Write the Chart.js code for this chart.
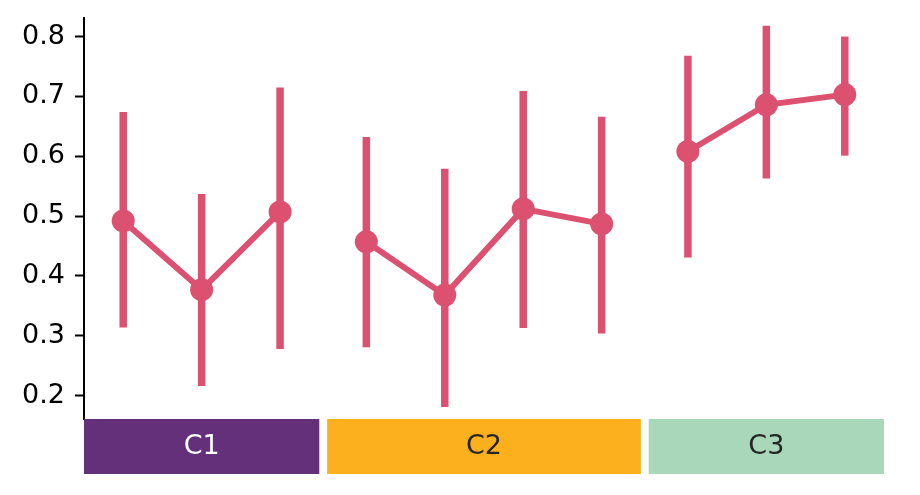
<!DOCTYPE html>
<html>
<head>
<meta charset="utf-8">
<script src="https://cdn.jsdelivr.net/npm/chart.js@4"></script>
<style>
  html, body { margin: 0; padding: 0; background: #fff; }
</style>
</head>
<body>
<canvas id="myChart" width="920" height="495"></canvas>
<script>
const groups = ['C1', 'C2', 'C3'];
const means = [
    [0.492, 0.377, 0.507],
    [0.457, 0.368, 0.512, 0.487],
    [0.608, 0.686, 0.703]
];
const lows = [
    [0.314, 0.216, 0.278],
    [0.281, 0.181, 0.313, 0.304],
    [0.431, 0.563, 0.601]
];
const highs = [
    [0.674, 0.537, 0.715],
    [0.632, 0.579, 0.709, 0.666],
    [0.768, 0.818, 0.800]
];
const yTicks = [0.2, 0.3, 0.4, 0.5, 0.6, 0.7, 0.8];

const groupColors = ['#65307a', '#fdb01d', '#a9d7b9'];
const groupTextColors = ['#ffffff', '#262626', '#262626'];
const lineColor = '#dc5070';
const gap = 0.1; // промежуток между группами

// позиции точек по оси x
let offset = 0;
const groupRanges = [];
const datasets = means.map(function (vals, g) {
    const start = offset;
    const pts = vals.map(function (v, i) {
        return { x: start + i + 0.5, y: v, lo: lows[g][i], hi: highs[g][i] };
    });
    offset += vals.length;
    groupRanges.push([start, offset]);
    offset += gap;
    return {
        label: groups[g],
        data: pts,
        borderColor: lineColor,
        backgroundColor: lineColor,
        borderWidth: 6,
        pointRadius: 11.5,
        pointHoverRadius: 11.5,
        pointBorderWidth: 0,
        clip: false
    };
});
const xMax = offset - gap;

// вертикальные "усы" ошибок
const errorBars = {
    id: 'errorBars',
    beforeDatasetsDraw(chart) {
        const ctx = chart.ctx;
        const xs = chart.scales.x, ys = chart.scales.y;
        ctx.save();
        ctx.strokeStyle = lineColor;
        ctx.lineWidth = 7.5;
        ctx.lineCap = 'butt';
        chart.data.datasets.forEach(function (ds) {
            ds.data.forEach(function (p) {
                const px = xs.getPixelForValue(p.x);
                ctx.beginPath();
                ctx.moveTo(px, ys.getPixelForValue(p.lo));
                ctx.lineTo(px, ys.getPixelForValue(p.hi));
                ctx.stroke();
            });
        });
        ctx.restore();
    }
};

// цветные плашки с названиями групп
const groupBoxes = {
    id: 'groupBoxes',
    afterDraw(chart) {
        const ctx = chart.ctx;
        const xs = chart.scales.x;
        const top = chart.chartArea.bottom;
        ctx.save();
        groupRanges.forEach(function (r, g) {
            const x0 = xs.getPixelForValue(r[0]);
            const x1 = xs.getPixelForValue(r[1]);
            ctx.fillStyle = groupColors[g];
            ctx.fillRect(x0, top, x1 - x0, 55);
            ctx.fillStyle = groupTextColors[g];
            ctx.font = '27px "DejaVu Sans"';
            ctx.textAlign = 'center';
            ctx.textBaseline = 'middle';
            ctx.fillText(groups[g], (x0 + x1) / 2, top + 28);
        });
        ctx.restore();
    }
};

const ctx = document.getElementById('myChart').getContext('2d');
const myChart = new Chart(ctx, {
    type: 'line',
    data: { datasets: datasets },
    options: {
        responsive: false,
        animation: false,
        devicePixelRatio: 1,
        layout: { padding: { top: 18, bottom: 76, left: 0, right: 36 } },
        plugins: {
            legend: { display: false },
            tooltip: { enabled: false }
        },
        scales: {
            x: {
                type: 'linear',
                min: 0,
                max: xMax,
                display: false
            },
            y: {
                min: 0.161,
                max: 0.831,
                afterFit(scale) {
                    scale.width = 84;
                    scale.paddingTop = 0;
                    scale.paddingBottom = 0;
                },
                afterBuildTicks(scale) {
                    scale.ticks = yTicks.map(function (v) { return { value: v }; });
                },
                ticks: {
                    color: '#000',
                    padding: 10,
                    font: { family: 'DejaVu Sans', size: 27 },
                    callback: function (v) { return v.toFixed(1); }
                },
                grid: {
                    drawOnChartArea: false,
                    drawTicks: true,
                    tickLength: 9,
                    tickWidth: 2,
                    tickColor: '#000'
                },
                border: { display: true, color: '#000', width: 2 }
            }
        }
    },
    plugins: [errorBars, groupBoxes]
});
</script>
</body>
</html>
